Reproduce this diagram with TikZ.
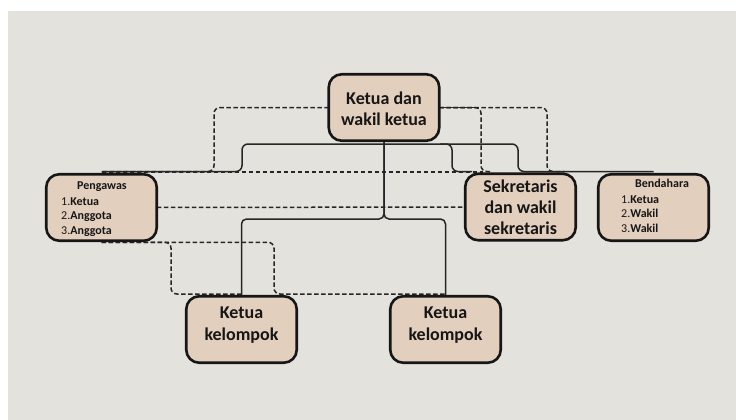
\documentclass[tikz,border=0pt]{standalone}
\usepackage{fontspec}
\setmainfont{Carlito}
\usetikzlibrary{backgrounds}
\definecolor{bgc}{HTML}{E3E2DC}
\definecolor{boxfill}{HTML}{E2CFBD}
\definecolor{ink}{HTML}{161616}
\definecolor{linec}{HTML}{262626}
\pgfdeclarelayer{bottom}
\pgfsetlayers{bottom,background,main}
\begin{document}
\begin{tikzpicture}[x=1pt,y=-1pt,
  box/.style={draw=ink, line width=2.6pt, fill=boxfill, rounded corners=13pt,
    minimum width=110.5pt, minimum height=66.5pt, inner sep=0pt, outer sep=0pt},
  conn/.style={draw=linec, line width=1.5pt, rounded corners=6pt},
  dline/.style={conn, dash pattern=on 4.5pt off 2.5pt},
  big/.style={font=\fontsize{18}{21}\selectfont\bfseries, text=ink, anchor=base, inner sep=0pt},
  head/.style={font=\fontsize{12}{14}\selectfont\bfseries, text=ink, anchor=base, inner sep=0pt},
  item/.style={font=\fontsize{12}{14}\selectfont, text=ink, anchor=base west, inner sep=0pt}]
\useasboundingbox (0,0) rectangle (736,420);
\begin{pgfonlayer}{bottom}
  \fill[white] (0,0) rectangle (736,420);
  \fill[bgc] (8,11) rectangle (736,420);
\end{pgfonlayer}

% boxes
\node[box] (top)  at (384,107.5) {};
\node[box] (peng) at (101.5,207.5) {};
\node[box] (sek)  at (520.5,207) {};
\node[box] (bend) at (653.5,207.5) {};
\node[box] (k1)   at (241.5,329.5) {};
\node[box] (k2)   at (445.5,329.5) {};

\begin{pgfonlayer}{background}
  % dashed connectors
  \draw[dline] (top.west) -| (214,171.5) -- (peng.north |- 0,171.5);
  \draw[dline] (peng.north |- 0,172) -- (483,172);
  \draw[dline] (top.east) -| (481,171.5) -- (492,171.5);
  \draw[dline] (top.east) -| (547,171.5) -- (565,171.5);
  \draw[dline] (peng.east) -- (sek.west);
  \draw[dline] (peng.south |- 0,242.3) -| (171,294) -- (k1.north |- 0,294);
  \draw[dline] (peng.south |- 0,242.3) -| (274,294) -- (k2.north |- 0,294);
  % solid connectors
  \draw[conn, rounded corners=5pt] (top.south) -- (384,219) -| (k1.north);
  \draw[conn, rounded corners=5pt] (top.south) -- (384,219) -| (k2.north);
  \draw[conn] (peng.north |- 0,171.5) -| (242,144) -| (518,171.5) -- (bend.north |- 0,171.5);
  \draw[conn] (440,144) -| (452,171.5) -- (472,171.5);
  \draw[conn] (top.east) -- (477,107.5);
\end{pgfonlayer}

% texts
\node[big] (ta) at (384,104.5) {Ketua dan};
\node[big] (tb) at (384,125.5) {wakil ketua};

\node[big] (sa) at (520.5,192.3) {Sekretaris};
\node[big] (sb) at (520.5,213.3) {dan wakil};
\node[big] (sc) at (520.5,234) {sekretaris};

\node[big] (k1a) at (241.5,318.3) {Ketua};
\node[big] (k1b) at (241.5,340) {kelompok};
\node[big] (k2a) at (445.5,318.3) {Ketua};
\node[big] (k2b) at (445.5,340) {kelompok};

\node[head] (ph) at (102,189.3) {Pengawas};
\node[item] (p1) at (61,205) {1.\textbf{Ketua}};
\node[item] (p2) at (61,219.5) {2.\textbf{Anggota}};
\node[item] (p3) at (61,234) {3.\textbf{Anggota}};

\node[head] (bh) at (662,187.7) {Bendahara};
\node[item] (b1) at (621,203.3) {1.\textbf{Ketua}};
\node[item] (b2) at (621,217.7) {2.\textbf{Wakil}};
\node[item] (b3) at (621,232.7) {3.\textbf{Wakil}};
\end{tikzpicture}
\end{document}
